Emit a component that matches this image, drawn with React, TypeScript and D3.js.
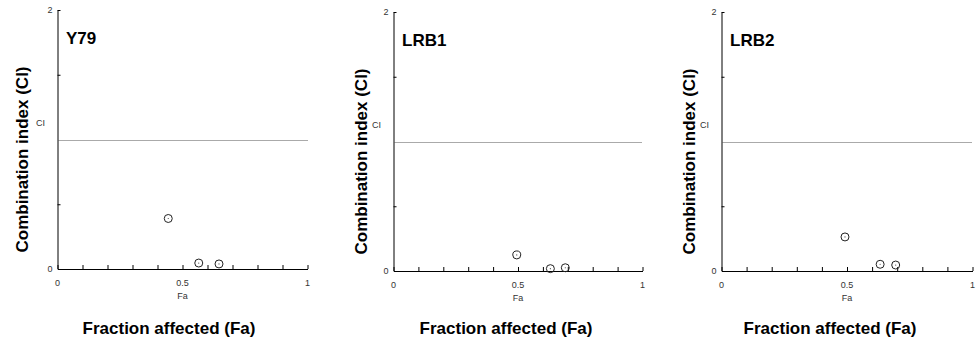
import { useEffect, useRef } from "react"
import * as d3 from "d3"

const panelNames = ["Y79", "LRB1", "LRB2"]
const faY79 = [0.443, 0.565, 0.646]
const ciY79 = [0.39, 0.046, 0.039]
const faLRB1 = [0.495, 0.63, 0.69]
const ciLRB1 = [0.124, 0.018, 0.025]
const faLRB2 = [0.492, 0.632, 0.694]
const ciLRB2 = [0.263, 0.052, 0.046]
const xTickLabels = [0, 0.5, 1]
const yTickLabels = [0, 2]
const ciRef = 1

const series = [
  { fa: faY79, ci: ciY79 },
  { fa: faLRB1, ci: ciLRB1 },
  { fa: faLRB2, ci: ciLRB2 },
]

// per-panel frame in pixels
const frames = [
  { left: 57.5, right: 307.5, top: 10, bottom: 269, yLab: 22, xLab: 169 },
  { left: 393.5, right: 642.5, top: 12, bottom: 271, yLab: 361.5, xLab: 506 },
  { left: 721.5, right: 972.5, top: 12, bottom: 271, yLab: 689, xLab: 830 },
]

const SMALL = "'Liberation Sans Narrow', 'Arial Narrow', 'Liberation Sans', Arial, sans-serif"
const BOLD = "'Liberation Sans', Arial, Helvetica, sans-serif"

export default function App() {
  const ref = useRef<SVGSVGElement>(null)
  useEffect(() => {
    if (!ref.current) return
    const root = d3.select(ref.current)
    root.selectAll("*").remove()
    root.append("rect").attr("width", 979).attr("height", 341).attr("fill", "#fff")

    panelNames.forEach((name, i) => {
      const f = frames[i]
      const s = series[i]
      const x = d3.scaleLinear().domain([0, 1]).range([f.left, f.right])
      const y = d3.scaleLinear().domain([0, 2]).range([f.bottom, f.top])
      const g = root.append("g")

      // axes with inward ticks, no labels (labels drawn separately)
      g.append("g").attr("transform", `translate(0,${f.bottom})`)
        .call(d3.axisBottom(x).tickValues(d3.range(0, 11).map(d => d / 10)).tickSize(-4).tickSizeOuter(0).tickFormat(() => ""))
        .call(a => { a.select(".domain").attr("stroke", "#000"); a.selectAll("line").attr("stroke", "#000") })
      g.append("g").attr("transform", `translate(${f.left},0)`)
        .call(d3.axisLeft(y).tickValues([0.5, 1.5, 2]).tickSize(-3).tickSizeOuter(0).tickFormat(() => ""))
        .call(a => { a.select(".domain").attr("stroke", "#000"); a.selectAll("line").attr("stroke", "#000") })

      // CI = 1 reference line
      g.append("line").attr("x1", f.left + 1).attr("x2", f.right)
        .attr("y1", Math.round(y(ciRef)) + 0.5).attr("y2", Math.round(y(ciRef)) + 0.5)
        .attr("stroke", "#555").attr("stroke-width", 1).attr("stroke-dasharray", "1,1")

      // tick labels
      g.selectAll(".xt").data(xTickLabels).join("text")
        .attr("x", d => x(d)).attr("y", f.bottom + 17).attr("text-anchor", "middle")
        .style("font-family", SMALL).style("font-size", "9px").style("fill", "#333").text(d => String(d))
      g.selectAll(".yt").data(yTickLabels).join("text")
        .attr("x", f.left - 5).attr("y", d => y(d) + 3).attr("text-anchor", "end")
        .style("font-family", SMALL).style("font-size", "9px").style("fill", "#333").text(d => String(d))
      g.append("text").attr("x", f.left - 17).attr("y", f.top + 116).attr("text-anchor", "middle")
        .style("font-family", SMALL).style("font-size", "9px").style("fill", "#333").text("CI")
      g.append("text").attr("x", x(0.5)).attr("y", f.bottom + 30).attr("text-anchor", "middle")
        .style("font-family", SMALL).style("font-size", "9px").style("fill", "#333").text("Fa")

      // panel title
      g.append("text").attr("x", f.left + 8.5).attr("y", f.top + 34)
        .style("font-family", BOLD).style("font-weight", "bold").style("font-size", "17px").style("fill", "#000").text(name)

      // axis titles
      g.append("text").attr("transform", `translate(${f.yLab},${(f.top + f.bottom) / 2 + 20}) rotate(-90)`)
        .attr("text-anchor", "middle").attr("dominant-baseline", "central")
        .style("font-family", BOLD).style("font-weight", "bold").style("font-size", "17px").style("fill", "#000")
        .text("Combination index (CI)")
      g.append("text").attr("x", f.xLab).attr("y", 334).attr("text-anchor", "middle")
        .style("font-family", BOLD).style("font-weight", "bold").style("font-size", "17px").style("fill", "#000")
        .text("Fraction affected (Fa)")

      // points
      const pts = s.fa.map((fa, k) => ({ fa, ci: s.ci[k] }))
      g.selectAll(".pt").data(pts).join("circle")
        .attr("cx", d => x(d.fa)).attr("cy", d => y(d.ci)).attr("r", 4)
        .attr("fill", "none").attr("stroke", "#222").attr("stroke-width", 1)
      g.selectAll(".dot").data(pts).join("circle")
        .attr("cx", d => x(d.fa)).attr("cy", d => y(d.ci)).attr("r", 0.6).attr("fill", "#444")
    })
  }, [])
  return <svg ref={ref} width={979} height={341} style={{ position: "absolute", left: 0, top: 0, display: "block" }} />
}
